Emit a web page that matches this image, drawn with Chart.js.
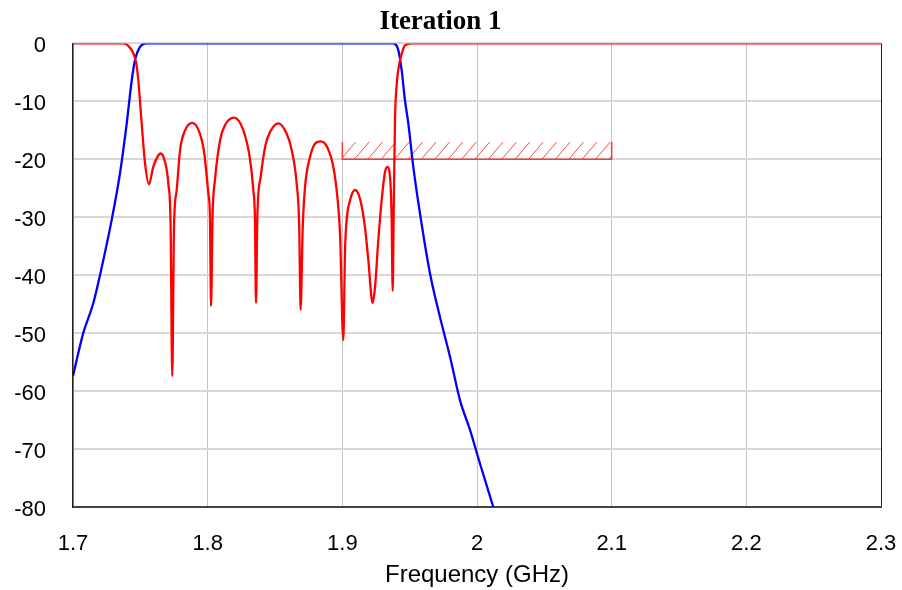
<!DOCTYPE html>
<html>
<head>
<meta charset="utf-8">
<script src="https://cdn.jsdelivr.net/npm/chart.js@4.4.1/dist/chart.umd.min.js"></script>
<style>
  html, body { margin: 0; padding: 0; background: #fff; }
  #wrap { width: 902px; height: 590px; }
</style>
</head>
<body>
<div id="wrap"><canvas id="c" width="902" height="590"></canvas></div>
<script>
// ---- Data ----
const chartTitle = "Iteration 1";
const xAxisTitle = "Frequency (GHz)";
const xTicks = [1.7, 1.8, 1.9, 2.0, 2.1, 2.2, 2.3];
const yTicks = [0, -10, -20, -30, -40, -50, -60, -70, -80];

// S11 (red) : frequency (GHz) and dB
const s11Freq = [1.7, 1.7374, 1.7410, 1.7448, 1.7470, 1.7485, 1.7510, 1.7535, 1.7564, 1.7596, 1.7634, 1.7651, 1.7680, 1.7708, 1.7725, 1.7737, 1.7750, 1.7770, 1.7795, 1.7832, 1.7886, 1.7943, 1.7975, 1.8005, 1.8017, 1.8025, 1.8037, 1.8054, 1.8092, 1.8129, 1.8196, 1.8265, 1.8314, 1.8339, 1.8351, 1.8359, 1.8369, 1.8394, 1.8430, 1.8463, 1.8525, 1.8587, 1.8624, 1.8661, 1.8680, 1.8690, 1.8706, 1.8723, 1.8760, 1.8797, 1.8839, 1.8888, 1.8933, 1.8963, 1.8983, 1.9007, 1.9020, 1.9032, 1.9057, 1.9094, 1.9131, 1.9168, 1.9193, 1.9225, 1.9243, 1.9267, 1.9292, 1.9317, 1.9334, 1.9354, 1.9366, 1.9374, 1.9382, 1.9391, 1.9404, 1.9423, 1.9441, 1.9465, 1.9515, 2.3];
const s11dB = [0, 0, -0.4, -1.7, -3.5, -6.4, -13.8, -20.7, -24.3, -21.3, -19.3, -19.0, -20.2, -24.2, -31.7, -57.4, -31.7, -25.3, -18.4, -15.0, -13.7, -15.6, -19.0, -25.9, -29.9, -45.3, -29.3, -23.6, -16.7, -14.1, -12.8, -15.0, -19.9, -25.3, -30.2, -44.8, -29.9, -23.0, -17.5, -15.3, -13.8, -15.6, -18.4, -24.2, -31.7, -46.0, -31.7, -24.8, -19.6, -17.3, -16.9, -17.9, -21.3, -26.5, -32.8, -51.2, -35.7, -30.5, -27.1, -25.3, -26.8, -31.7, -37.4, -44.8, -42.0, -34.0, -27.1, -22.2, -21.3, -23.0, -29.9, -42.7, -28.0, -13.3, -7.0, -3.5, -1.8, -0.35, 0, 0];

// S21 (blue)
const s21Freq = [1.7, 1.7076, 1.7151, 1.7225, 1.7287, 1.7349, 1.7399, 1.7436, 1.7460, 1.7498, 1.7547, 1.8, 1.85, 1.9, 1.9378, 1.9416, 1.9441, 1.9465, 1.9490, 1.9527, 1.9577, 1.9651, 1.9725, 1.9800, 1.9874, 1.9948, 2.0022, 2.0121];
const s21dB = [-57.4, -50.0, -44.8, -37.4, -30.5, -22.4, -13.8, -6.4, -2.9, -0.6, 0, 0, 0, 0, 0, -1.2, -4.7, -9.8, -13.8, -21.3, -29.4, -39.7, -47.2, -54.1, -61.6, -66.7, -72.5, -80.0];

// Return-loss goal region (hatched)
const goalFreq = [1.9, 2.1];
const goalDB = [-17, -20];

// ---- Build chart ----
const toPts = (xs, ys) => xs.map((x, i) => ({ x: x, y: ys[i] }));

const hatchPlugin = {
  id: 'hatchGoal',
  beforeDatasetsDraw(chart) {
    const xs = chart.scales.x, ys = chart.scales.y, ctx = chart.ctx;
    const x0 = xs.getPixelForValue(goalFreq[0]);
    const x1 = xs.getPixelForValue(goalFreq[1]);
    const yT = ys.getPixelForValue(goalDB[0]);
    const yB = ys.getPixelForValue(goalDB[1]);
    const h = yB - yT;
    ctx.save();
    ctx.beginPath();
    ctx.rect(x0, yT, x1 - x0, h);
    ctx.clip();
    ctx.strokeStyle = 'rgba(255,40,40,0.85)';
    ctx.lineWidth = 1;
    const step = 13.4, dx = h * 0.85;
    ctx.beginPath();
    for (let x = x0 - dx; x < x1 + step; x += step) {
      ctx.moveTo(x, yB);
      ctx.lineTo(x + dx, yT);
    }
    ctx.stroke();
    ctx.restore();
    ctx.save();
    ctx.strokeStyle = 'rgba(255,40,40,0.9)';
    ctx.lineWidth = 1.5;
    ctx.beginPath();
    ctx.moveTo(x0, yT); ctx.lineTo(x0, yB); ctx.lineTo(x1, yB); ctx.lineTo(x1, yT);
    ctx.stroke();
    ctx.restore();
  }
};

new Chart(document.getElementById('c'), {
  type: 'line',
  data: {
    datasets: [
      { label: 'S11', data: toPts(s11Freq, s11dB), borderColor: '#ff0000', borderWidth: 2.3, pointRadius: 0, cubicInterpolationMode: 'monotone', fill: false, order: 0 },
      { label: 'S21', data: toPts(s21Freq, s21dB), borderColor: '#0000ff', borderWidth: 2.3, pointRadius: 0, cubicInterpolationMode: 'monotone', fill: false, order: 1 }
    ]
  },
  options: {
    responsive: false,
    animation: false,
    layout: { padding: { left: 0, right: 21, top: 0, bottom: 0 } },
    plugins: {
      legend: { display: false },
      tooltip: { enabled: false },
      title: {
        display: true,
        text: chartTitle,
        color: '#000',
        font: { family: '"Liberation Serif", "Times New Roman", serif', size: 27, weight: 'bold' },
        padding: { top: 6, bottom: 5 }
      }
    },
    scales: {
      x: {
        type: 'linear',
        min: 1.7, max: 2.3,
        afterFit(s) { s.height = 83; s.paddingLeft = 0; s.paddingRight = 0; },
        afterBuildTicks(s) { s.ticks = xTicks.map(v => ({ value: v })); },
        ticks: {
          color: '#000',
          padding: 24,
          maxRotation: 0,
          autoSkip: false,
          font: { family: '"Liberation Sans", Arial, sans-serif', size: 22 },
          callback: v => String(Math.round(v * 10) / 10)
        },
        grid: {
          drawTicks: false,
          color: ctx => (ctx.tick && ctx.tick.value === 2.3) ? '#222' : '#c4c4c4',
          lineWidth: 1
        },
        border: { display: true, color: '#444', width: 2 },
        title: {
          display: true,
          text: xAxisTitle,
          color: '#000',
          font: { family: '"Liberation Sans", Arial, sans-serif', size: 24 },
          padding: { top: 0, bottom: 0 }
        }
      },
      y: {
        type: 'linear',
        min: -80, max: 0,
        afterFit(s) { s.width = 73; s.paddingTop = 0; s.paddingBottom = 0; },
        afterBuildTicks(s) { s.ticks = yTicks.map(v => ({ value: v })); },
        ticks: {
          color: '#000',
          padding: 27,
          labelOffset: 3,
          font: { family: '"Liberation Sans", Arial, sans-serif', size: 22 }
        },
        grid: { drawTicks: false, color: '#d8d8d8', lineWidth: 2 },
        border: { display: true, color: '#222', width: 1.5 }
      }
    }
  },
  plugins: [hatchPlugin]
});
</script>
</body>
</html>
